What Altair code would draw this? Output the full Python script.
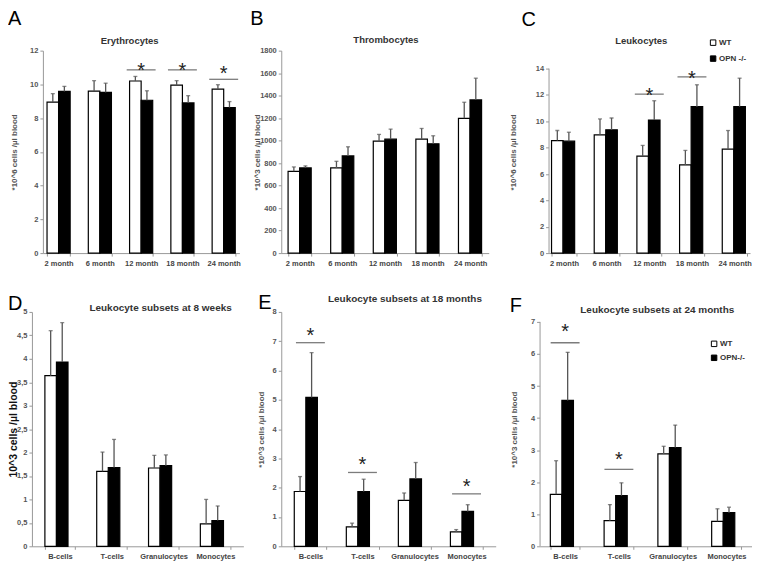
import altair as alt
import pandas as pd

SERIES = ["WT", "OPN -/-"]
MONTHS = ["2 month", "6 month", "12 month", "18 month", "24 month"]
SUBSETS = ["B-cells", "T-cells", "Granulocytes", "Monocytes"]
LETTERS = ["A", "B", "C", "D", "E", "F"]

# A  Erythrocytes
ERY_WT = [8.95, 9.6, 10.2, 9.95, 9.72]
ERY_WT_ERR = [9.45, 10.22, 10.47, 10.22, 9.98]
ERY_KO = [9.58, 9.52, 9.06, 8.9, 8.63]
ERY_KO_ERR = [9.88, 10.07, 9.62, 9.33, 8.98]
ERY_SIG = ["12 month", "18 month", "24 month"]
ERY_SIG_LINE = [10.86, 10.86, 10.3]
ERY_SIG_STAR = [11.12, 11.12, 10.92]

# B  Thrombocytes
THR_WT = [727, 757, 995, 1013, 1198]
THR_WT_ERR = [766, 816, 1055, 1108, 1341]
THR_KO = [757, 864, 1013, 971, 1362]
THR_KO_ERR = [775, 945, 1102, 1043, 1555]

# C  Leukocytes
LEU_WT = [8.54, 8.97, 7.36, 6.69, 7.89]
LEU_WT_ERR = [9.3, 10.18, 8.17, 7.79, 9.3]
LEU_KO = [8.49, 9.35, 10.1, 11.11, 11.11]
LEU_KO_ERR = [9.17, 10.25, 11.56, 12.77, 13.27]
LEU_SIG = ["12 month", "18 month"]
LEU_SIG_LINE = [12.06, 13.37]
LEU_SIG_STAR = [12.3, 13.65]

# D  Leukocyte subsets at 8 weeks
W8_WT = [3.64, 1.6, 1.67, 0.48]
W8_WT_ERR = [4.6, 2.01, 1.94, 1.0]
W8_KO = [3.93, 1.68, 1.72, 0.55]
W8_KO_ERR = [4.77, 2.28, 1.95, 0.86]

# E  Leukocyte subsets at 18 months
M18_WT = [1.87, 0.66, 1.57, 0.49]
M18_WT_ERR = [2.38, 0.79, 1.82, 0.57]
M18_KO = [5.08, 1.87, 2.3, 1.19]
M18_KO_ERR = [6.61, 2.29, 2.86, 1.42]
M18_SIG = ["B-cells", "T-cells", "Monocytes"]
M18_SIG_LINE = [6.95, 2.52, 1.79]
M18_SIG_STAR = [7.38, 2.95, 2.21]

# F  Leukocyte subsets at 24 months
M24_WT = [1.62, 0.8, 2.88, 0.78]
M24_WT_ERR = [2.67, 1.3, 3.12, 1.17]
M24_KO = [4.55, 1.58, 3.08, 1.05]
M24_KO_ERR = [6.05, 1.98, 3.78, 1.22]
M24_SIG = ["B-cells", "T-cells"]
M24_SIG_LINE = [6.35, 2.4]
M24_SIG_STAR = [6.85, 2.85]

FONT = "Liberation Sans"
GREY = "#555555"


def spacer(w, h):
    return alt.Chart(pd.DataFrame({"s": [0]})).mark_point(opacity=0, size=1).encode(
        x=alt.value(0), y=alt.value(0)).properties(width=w, height=h)


def panel(cats, wt, wt_e, ko, ko_e, ytop, yvals, title, ytitle, letter,
          w, h, pin, pout, letter_xy, title_xy, ytitle_x, axis_top=None,
          sig=None, legend_xy=None, legend_expr=None, comma=False,
          title_size=9.5, ytitle_style=None, line_w=29, yfmt=None):
    rows = []
    for i, c in enumerate(cats):
        rows.append({"cat": c, "series": SERIES[0], "value": wt[i], "err": wt_e[i]})
        rows.append({"cat": c, "series": SERIES[1], "value": ko[i], "err": ko_e[i]})
    df = pd.DataFrame(rows)

    yts = {"titleFontSize": 8, "titleColor": GREY, "titleFontWeight": "bold"}
    if ytitle_style:
        yts.update(ytitle_style)

    extra = {}
    if yfmt:
        extra["format"] = yfmt
    if comma:
        extra["labelExpr"] = "replace(format(datum.value, '~g'), '.', ',')"

    yaxis = alt.Axis(
        values=yvals, title=ytitle, grid=False, domain=axis_top is None,
        domainColor="#999999",
        tickColor="#999999", tickSize=3, labelFontSize=7.5, labelFont=FONT,
        labelFontWeight="bold", labelColor=GREY, labelPadding=2,
        labelOverlap=False,
        titleFont=FONT, titleX=ytitle_x, titleY=h / 2, titleAngle=270,
        titleAlign="center", titleBaseline="middle",
        **yts, **extra)
    xaxis = alt.Axis(
        title=None, labelAngle=0, tickBand="extent", tickSize=3,
        domainColor="#999999", tickColor="#999999", labelFontSize=7.5,
        labelFont=FONT, labelFontWeight="bold", labelColor="#444444",
        labelPadding=3, labelOverlap=False)

    xs = alt.X("cat:N", sort=cats, axis=xaxis,
               scale=alt.Scale(paddingInner=pin, paddingOuter=pout))
    xo = alt.XOffset("series:N", sort=SERIES, scale=alt.Scale(paddingInner=0))
    ysc = alt.Scale(domain=[0, ytop], nice=False, zero=True)

    def Y(field):
        return alt.Y(field, scale=ysc, axis=yaxis, title=ytitle)

    if legend_xy is not None:
        leg = alt.Legend(
            orient="none", legendX=legend_xy[0], legendY=legend_xy[1], title=None,
            symbolType="square", symbolSize=30, symbolStrokeColor="black",
            symbolStrokeWidth=1, labelFontSize=8, labelFont=FONT,
            labelFontWeight="bold", labelColor="#333333", rowPadding=legend_xy[2],
            labelOffset=2, padding=0,
            labelExpr=legend_expr if legend_expr else "datum.label")
    else:
        leg = None

    base = alt.Chart(df)
    bars = base.mark_bar(stroke="black", strokeWidth=1.2).encode(
        x=xs, xOffset=xo, y=Y("value:Q"),
        fill=alt.Fill("series:N", sort=SERIES,
                      scale=alt.Scale(domain=SERIES, range=["white", "black"]),
                      legend=leg))
    errs = base.mark_rule(color="#555555", strokeWidth=1.3).encode(
        x=xs, xOffset=xo, y=Y("value:Q"), y2="err:Q")
    caps = base.mark_tick(orient="horizontal", size=4, thickness=1.3,
                          color="#555555").encode(
        x=xs, xOffset=xo, y=Y("err:Q"))
    layers = [bars, errs, caps]

    if axis_top is not None:
        adf = pd.DataFrame({"a0": [0], "a1": [axis_top]})
        aline = alt.Chart(adf).mark_rule(color="#999999", strokeWidth=1).encode(
            x=alt.value(0.5), y=Y("a0:Q"), y2="a1:Q")
        layers.append(aline)

    if sig is not None:
        sdf = pd.DataFrame({"cat": sig[0], "value": sig[1], "star": sig[2]})
        sb = alt.Chart(sdf)
        lines = sb.mark_tick(orient="horizontal", size=line_w, thickness=1.3,
                             color="#444444").encode(x=xs, y=Y("value:Q"))
        stars = sb.mark_text(text="*", fontSize=20, font=FONT, color="#222222",
                             baseline="alphabetic", dy=11.5).encode(
            x=xs, y=Y("star:Q"))
        layers += [lines, stars]

    tdf = pd.DataFrame({"t": [title]})
    ttl = alt.Chart(tdf).mark_text(
        fontSize=title_size, font=FONT, fontWeight="bold", color="#333333",
        align="center", baseline="middle").encode(
        text="t:N", x=alt.value(title_xy[0]), y=alt.value(title_xy[1]))
    ldf = pd.DataFrame({"t": [letter]})
    let = alt.Chart(ldf).mark_text(
        fontSize=20, font=FONT, fontWeight="normal", color="black",
        align="left", baseline="alphabetic").encode(
        text="t:N", x=alt.value(letter_xy[0]), y=alt.value(letter_xy[1]))
    layers += [ttl, let]

    return alt.layer(*layers).properties(width=w, height=h)


A = panel(MONTHS, ERY_WT, ERY_WT_ERR, ERY_KO, ERY_KO_ERR, 12, list(range(0, 13, 2)),
          "Erythrocytes", "*10^6 cells /µl blood", LETTERS[0],
          197, 203, 0.44, 0.1, (-35, -26), (87, -10), -28,
          sig=(ERY_SIG, ERY_SIG_LINE, ERY_SIG_STAR))
B = panel(MONTHS, THR_WT, THR_WT_ERR, THR_KO, THR_KO_ERR, 1800, list(range(0, 1801, 200)),
          "Thrombocytes", "*10^3 cells /µl blood", LETTERS[1],
          208, 203, 0.45, 0.16, (-31, -26), (105, -11), -24, yfmt="d")
C = panel(MONTHS, LEU_WT, LEU_WT_ERR, LEU_KO, LEU_KO_ERR, 14 * 203 / 185,
          list(range(0, 15, 2)),
          "Leukocytes", "*10^6 cells /µl blood", LETTERS[2],
          202, 203, 0.42, 0.07, (-27, -25), (93, -10), -35, axis_top=14,
          sig=(LEU_SIG, LEU_SIG_LINE, LEU_SIG_STAR), legend_xy=(161, -12, 6))
D = panel(SUBSETS, W8_WT, W8_WT_ERR, W8_KO, W8_KO_ERR, 5, [i / 2 for i in range(11)],
          "Leukocyte subsets at 8 weeks", "10^3 cells /µl blood", LETTERS[3],
          212, 235, 0.42, 0.25, (-24, -2), (129, -4), -18, comma=True,
          title_size=10,
          ytitle_style={"titleFontSize": 10.5, "titleColor": "#111111"})
E = panel(SUBSETS, M18_WT, M18_WT_ERR, M18_KO, M18_KO_ERR, 8, list(range(0, 9)),
          "Leukocyte subsets at 18 months", "*10^3 cells /µl blood", LETTERS[4],
          215, 235, 0.38, 0.25, (-23, -3), (124, -13), -20,
          sig=(M18_SIG, M18_SIG_LINE, M18_SIG_STAR), title_size=10)
F = panel(SUBSETS, M24_WT, M24_WT_ERR, M24_KO, M24_KO_ERR, 7 * 235 / 225,
          list(range(0, 8)),
          "Leukocyte subsets at 24 months", "*10^3 cells /µl blood", LETTERS[5],
          213, 235, 0.45, 0.2, (-30, 0), (118, -2), -25, axis_top=7,
          sig=(M24_SIG, M24_SIG_LINE, M24_SIG_STAR), legend_xy=(171, 28, 4),
          legend_expr="datum.label == 'OPN -/-' ? 'OPN-/-' : datum.label",
          title_size=10)

top = alt.hconcat(spacer(11, 203), A, spacer(42, 203), B, spacer(60, 203), C,
                  spacing=0, bounds="flush").resolve_scale(
    fill="independent").resolve_legend(fill="independent")
bottom = alt.hconcat(D, spacer(38, 235), E, spacer(44, 235), F,
                     spacing=0, bounds="flush").resolve_scale(
    fill="independent").resolve_legend(fill="independent")

chart = alt.vconcat(top, bottom, spacing=26).properties(
    padding=0, background="white"
).configure_view(stroke=None).resolve_scale(
    fill="independent").resolve_legend(fill="independent")

chart.save("out.html", embed_options={"renderer": "svg", "actions": False})
